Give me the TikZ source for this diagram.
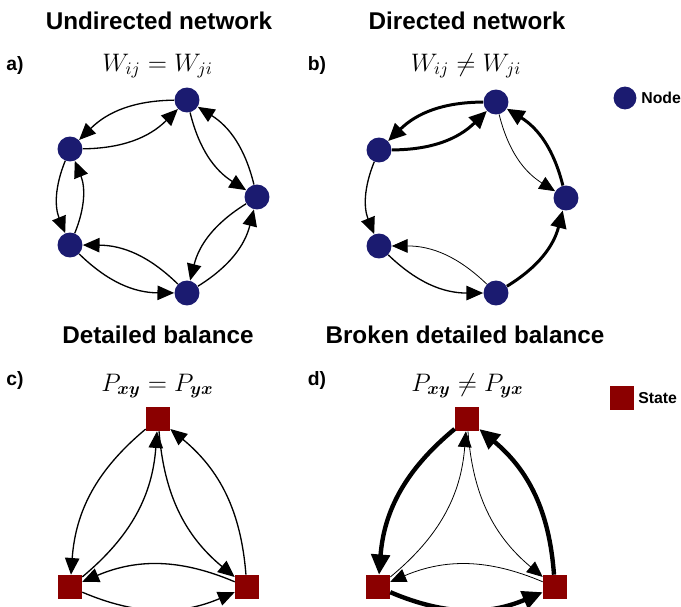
\documentclass[tikz,border=0pt]{standalone}
\usepackage[no-math]{fontspec}
\setmainfont{Liberation Sans}
\usepackage{bm}
\usetikzlibrary{arrows.meta}
\definecolor{nodeblue}{RGB}{27,27,112}
\definecolor{statered}{RGB}{139,0,0}
\begin{document}
\begin{tikzpicture}[x=0.02cm,y=-0.02cm,
  nd/.style={circle,fill=nodeblue,minimum size=14.2pt,inner sep=0pt},
  st/.style={rectangle,fill=statered,minimum size=13.6pt,inner sep=0pt},
  ttl/.style={font=\fontsize{13.8}{16}\selectfont\bfseries},
  lbl/.style={font=\fontsize{11}{13}\selectfont\bfseries},
  eq/.style={font=\fontsize{14.5}{17}\selectfont},
  lg/.style={font=\fontsize{9}{11}\selectfont\bfseries,anchor=west,inner sep=0pt},
  ed/.style={-{Triangle[length=9.5pt,width=8.2pt]},line width=0.75pt},
  edthin/.style={-{Triangle[length=9pt,width=7.8pt]},line width=0.45pt},
  edthick/.style={-{Triangle[length=10pt,width=9pt]},line width=1.7pt},
  edheavy/.style={-{Triangle[length=11.5pt,width=10.5pt]},line width=2.5pt},
  bA/.style={bend right=22},
  bC/.style={bend right=23}
]
\useasboundingbox (0,0) rectangle (681,607);

% titles
\node[ttl] (t1) at (159,21) {Undirected network};
\node[ttl] (t2) at (467,21) {Directed network};
\node[ttl] (t3) at (158,335) {Detailed balance};
\node[ttl] (t4) at (465,335) {Broken detailed balance};
% panel labels
\node[lbl] (la) at (15,66) {a)};
\node[lbl] (lb) at (317,66) {b)};
\node[lbl] (lc) at (15,381) {c)};
\node[lbl] (ld) at (317,381) {d)};
% equations
\node[eq] (e1) at (157.5,66) {$W_{ij}=W_{ji}$};
\node[eq] (e2) at (466,66) {$W_{ij}\neq W_{ji}$};
\node[eq] (e3) at (157.5,386) {$P_{\bm{xy}}=P_{\bm{yx}}$};
\node[eq] (e4) at (467.5,386) {$P_{\bm{xy}}\neq P_{\bm{yx}}$};

% legend
\node[nd,minimum size=13pt] (lgn) at (625,98) {};
\node[lg] (lgnt) at (641,98) {Node};
\node[st] (lgs) at (622,398) {};
\node[lg] (lgst) at (638,398) {State};

% panel a
\node[nd] (aT) at (187,100) {};
\node[nd] (aUL) at (70,149) {};
\node[nd] (aR) at (257,197) {};
\node[nd] (aLL) at (70,245) {};
\node[nd] (aB) at (187,293) {};
\draw[ed,bA] (aT) to (aUL);
\draw[ed,bA] (aUL) to (aT);
\draw[ed,bA] (aT) to (aR);
\draw[ed,bA] (aR) to (aT);
\draw[ed,bA] (aR) to (aB);
\draw[ed,bA] (aB) to (aR);
\draw[ed,bA] (aB) to (aLL);
\draw[ed,bA] (aLL) to (aB);
\draw[ed,bA] (aLL) to (aUL);
\draw[ed,bA] (aUL) to (aLL);

% panel b
\node[nd] (bT) at (496,102) {};
\node[nd] (bUL) at (379,150) {};
\node[nd] (bR) at (566,198) {};
\node[nd] (bLL) at (379,246) {};
\node[nd] (bB) at (496,293) {};
\draw[edthick,bA] (bT) to (bUL);
\draw[edthick,bA] (bUL) to (bT);
\draw[edthin,bA] (bT) to (bR);
\draw[edthick,bA] (bR) to (bT);
\draw[edthick,bA] (bB) to (bR);
\draw[ed,bA] (bLL) to (bB);
\draw[edthin,bA] (bB) to (bLL);
\draw[ed,bA] (bUL) to (bLL);

% panel c
\node[st] (cT) at (158,419) {};
\node[st] (cL) at (70,587) {};
\node[st] (cR) at (247,587) {};
\draw[ed,bC] (cT) to (cL);
\draw[ed,bC] (cL) to (cT);
\draw[ed,bC] (cT) to (cR);
\draw[ed,bC] (cR) to (cT);
\draw[ed,bC] (cR) to (cL);
\draw[ed,bC] (cL) to (cR);

% panel d
\node[st] (dT) at (467,419) {};
\node[st] (dL) at (378,587) {};
\node[st] (dR) at (555,587) {};
\draw[edheavy,bC] (dT) to (dL);
\draw[edthin,bC] (dL) to (dT);
\draw[edthin,bC] (dT) to (dR);
\draw[edheavy,bC] (dR) to (dT);
\draw[edthin,bC] (dR) to (dL);
\draw[edheavy,bC] (dL) to (dR);
\end{tikzpicture}
\end{document}
